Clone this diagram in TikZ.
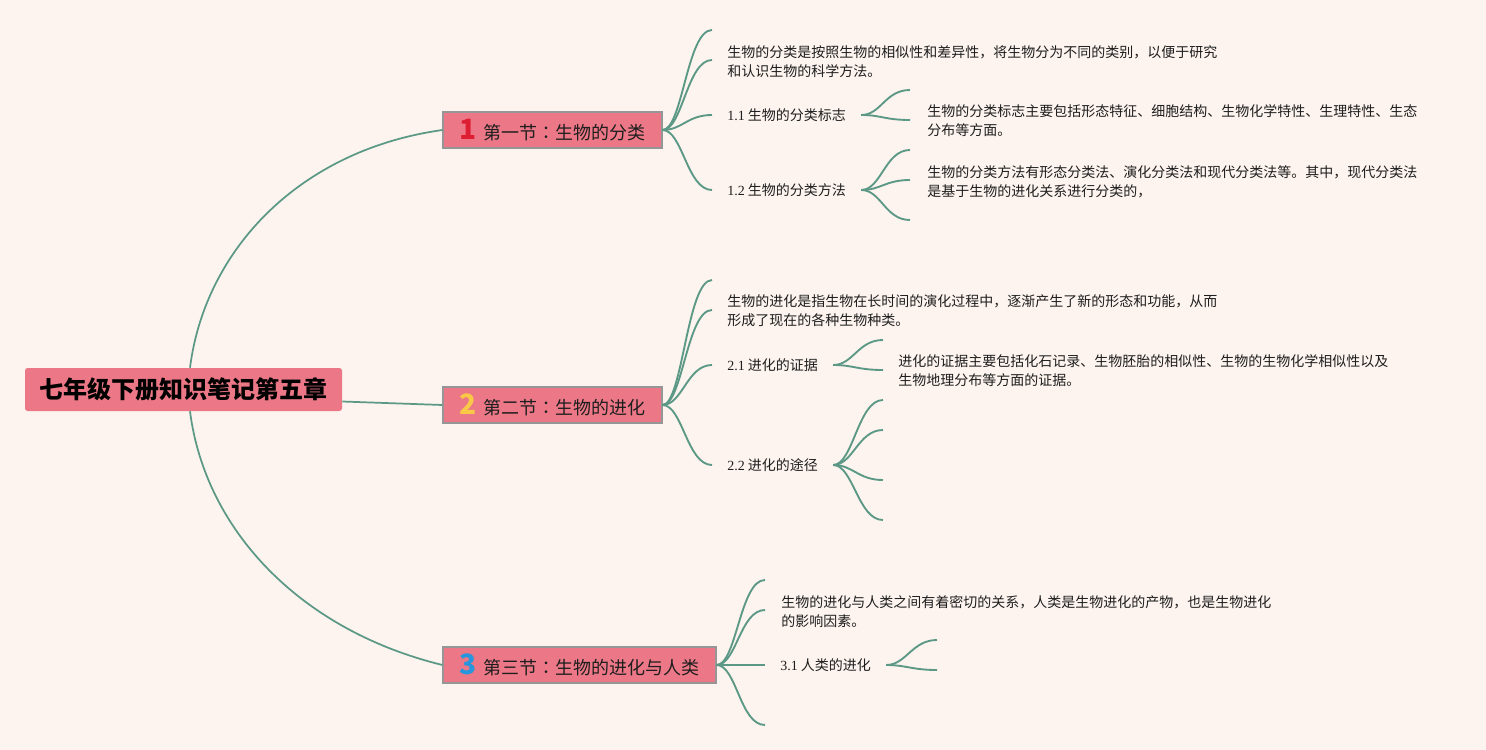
\documentclass[tikz,border=0pt]{standalone}
\usepackage{fontspec}
\setmainfont{Liberation Serif}
\newfontfamily\cjk{Noto Sans CJK SC}
\newfontfamily\cjktc{Noto Sans CJK TC}
\newfontfamily\lat{Liberation Serif}
\usetikzlibrary{calc}
\definecolor{bgc}{RGB}{253,244,239}
\definecolor{pinkc}{RGB}{236,120,135}
\definecolor{linec}{RGB}{91,152,133}
\definecolor{bordc}{RGB}{150,150,150}
\definecolor{txtc}{RGB}{30,30,30}
\definecolor{numred}{RGB}{222,30,50}
\definecolor{numyel}{RGB}{248,200,70}
\definecolor{numblue}{RGB}{40,150,220}
\tikzset{
 rootbox/.style={fill=pinkc, rounded corners=2pt, minimum width=237.75pt, minimum height=32.25pt, inner sep=0pt, font=\cjk\bfseries\fontsize{18pt}{20pt}\selectfont, text=black},
 secbox/.style={fill=pinkc, draw=bordc, line width=0.8pt, minimum height=27pt, inner sep=0pt, font=\cjk\fontsize{13.5pt}{15pt}\selectfont, text=txtc},
 desc/.style={anchor=west, align=left, inner sep=0pt, text=txtc, font=\cjk\fontsize{10.5pt}{14.25pt}\selectfont},
 subt/.style={anchor=west, inner xsep=11.25pt, inner ysep=2pt, text=txtc, font=\cjk\fontsize{10.5pt}{14.25pt}\selectfont},
 conn/.style={draw=linec, line width=1.4pt},
}
\newcommand{\secnum}[2]{{\color{#1}\bfseries\fontsize{21pt}{21pt}\selectfont #2}\hspace{5pt}}
\newcommand{\colonc}{{\cjktc ：}}
\begin{document}
\begin{tikzpicture}[x=0.75pt,y=-0.75pt]
\fill[bgc] (0,0) rectangle (1486,750);
\useasboundingbox (0,0) rectangle (1486,750);

% main nodes
\node[rootbox] (root) at (183.5,389.5) {七年级下册知识笔记第五章};
\node[secbox, minimum width=164.25pt] (s1) at (552.5,130) {\secnum{numred}{1}第一节\colonc 生物的分类};
\node[secbox, minimum width=164.25pt] (s2) at (552.5,405) {\secnum{numyel}{2}第二节\colonc 生物的进化};
\node[secbox, minimum width=204.75pt] (s3) at (579.5,665) {\secnum{numblue}{3}第三节\colonc 生物的进化与人类};

% section 1
\node[desc] (d1) at (727,61.5) {生物的分类是按照生物的相似性和差异性，将生物分为不同的类别，以便于研究\\和认识生物的科学方法。};
\node[subt] (t11) at (712,115) {{\lat 1.1} 生物的分类标志};
\node[subt] (t12) at (712,190) {{\lat 1.2} 生物的分类方法};
\node[desc] (d11) at (927,121) {生物的分类标志主要包括形态特征、细胞结构、生物化学特性、生理特性、生态\\分布等方面。};
\node[desc] (d12) at (927,181.5) {生物的分类方法有形态分类法、演化分类法和现代分类法等。其中，现代分类法\\是基于生物的进化关系进行分类的，};
\coordinate (e1a) at (712,30);
\coordinate (e1b) at (712,60);
\coordinate (e11a) at (910,90);
\coordinate (e11b) at (910,120);
\coordinate (e12a) at (910,150);
\coordinate (e12b) at (910,180);
\coordinate (e12c) at (910,220);

% section 2
\node[desc] (d2) at (727,311) {生物的进化是指生物在长时间的演化过程中，逐渐产生了新的形态和功能，从而\\形成了现在的各种生物种类。};
\node[subt] (t21) at (712,365) {{\lat 2.1} 进化的证据};
\node[subt] (t22) at (712,465) {{\lat 2.2} 进化的途径};
\node[desc] (d21) at (898,371) {进化的证据主要包括化石记录、生物胚胎的相似性、生物的生物化学相似性以及\\生物地理分布等方面的证据。};
\coordinate (e2a) at (712,280);
\coordinate (e2b) at (712,310);
\coordinate (e21a) at (883,340);
\coordinate (e21b) at (883,370);
\coordinate (e22a) at (883,400);
\coordinate (e22b) at (883,430);
\coordinate (e22c) at (883,480);
\coordinate (e22d) at (883,520);

% section 3
\node[desc] (d3) at (781,611.5) {生物的进化与人类之间有着密切的关系，人类是生物进化的产物，也是生物进化\\的影响因素。};
\node[subt] (t31) at (765,665) {{\lat 3.1} 人类的进化};
\coordinate (e3a) at (765,580);
\coordinate (e3b) at (765,610);
\coordinate (e3d) at (765,725);
\coordinate (e31a) at (937,640);
\coordinate (e31b) at (937,670);

% root connectors
\draw[conn, line width=1.3pt] ($(root.north)+(6.5,0)$) .. controls +(15,-118) and +(-143,20) .. (s1.west);
\draw[conn, line width=1.3pt] ($(root.east)+(0,12)$) -- (s2.west);
\draw[conn, line width=1.3pt] ($(root.south)+(6.5,0)$) .. controls +(15,118) and +(-143,-35) .. (s3.west);

% fans
\foreach \e in {e1a,e1b,t11.west,t12.west}
  \draw[conn] (s1.east) .. controls +(20,0) and +(-25,0) .. (\e);
\foreach \e in {e11a,e11b}
  \draw[conn] (t11.east) .. controls +(20,0) and +(-25,0) .. (\e);
\foreach \e in {e12a,e12b,e12c}
  \draw[conn] (t12.east) .. controls +(20,0) and +(-25,0) .. (\e);
\foreach \e in {e2a,e2b,t21.west,t22.west}
  \draw[conn] (s2.east) .. controls +(20,0) and +(-25,0) .. (\e);
\foreach \e in {e21a,e21b}
  \draw[conn] (t21.east) .. controls +(20,0) and +(-25,0) .. (\e);
\foreach \e in {e22a,e22b,e22c,e22d}
  \draw[conn] (t22.east) .. controls +(20,0) and +(-25,0) .. (\e);
\foreach \e in {e3a,e3b,t31.west,e3d}
  \draw[conn] (s3.east) .. controls +(20,0) and +(-25,0) .. (\e);
\foreach \e in {e31a,e31b}
  \draw[conn] (t31.east) .. controls +(20,0) and +(-25,0) .. (\e);
\end{tikzpicture}
\end{document}
